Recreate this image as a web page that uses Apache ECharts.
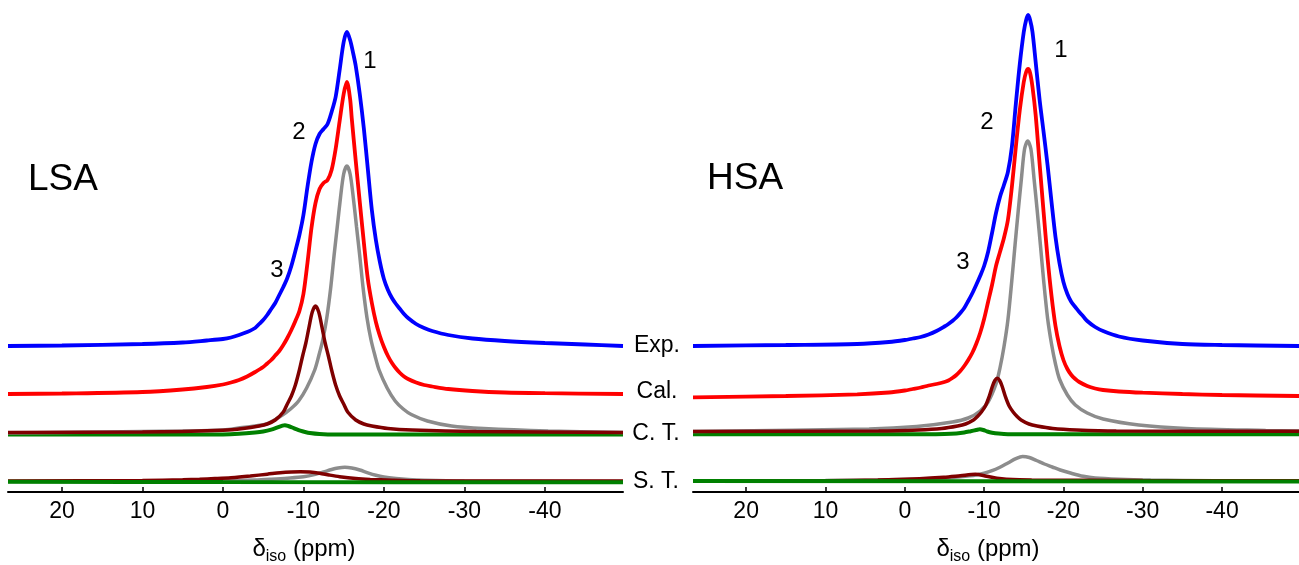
<!DOCTYPE html>
<html>
<head>
<meta charset="utf-8">
<script src="https://cdn.jsdelivr.net/npm/echarts@6/dist/echarts.min.js"></script>
<style>
html,body{margin:0;padding:0;background:#fff;}
#c{width:1299px;height:565px;}
</style>
</head>
<body>
<div id="c"></div>
<script>
// x values: chemical shift (ppm); y values: intensity (a.u., stacked spectra incl. vertical offsets)
const tickValues = [20, 10, 0, -10, -20, -30, -40];
const traceLabels = ['Exp.', 'Cal.', 'C. T.', 'S. T.'];
const panelNames = ['LSA', 'HSA'];
const peakLabels = ['1', '2', '3'];

// ---- LSA ----
const lsaExp = [[26.7,146],[20,146.5],[10,148],[5,149.5],[2,151.5],[0,153],[-1,154.5],[-2,157],[-3,160],[-4,164],[-4.5,168],[-5,172],[-5.5,177],[-6,183],[-6.5,189],[-7,197],[-7.5,205],[-8,214],[-8.5,226],[-9,241],[-9.5,257],[-10,277],[-10.5,305],[-11,330],[-11.5,348],[-12,358],[-12.5,363],[-13,368],[-13.5,380],[-14,395],[-14.5,422],[-15,450],[-15.4,460],[-15.8,452],[-16.2,438],[-16.5,426],[-17,398],[-17.5,364],[-18,323],[-18.5,282],[-19,252],[-19.5,230],[-20,213],[-20.5,202],[-21,194],[-21.5,188],[-22,183],[-22.5,178],[-23,174],[-24,168],[-25,164],[-26,161],[-28,157],[-31,153.5],[-35,151],[-40,149],[-45,147.5],[-49.7,146]];
const lsaCal = [[26.7,98],[20,98.5],[10,100],[5,102.5],[2,105],[0,107.5],[-1,109.5],[-2,112],[-3,115.5],[-4,120],[-5,125],[-5.5,128.5],[-6,132],[-6.5,136.5],[-7,141],[-7.5,147],[-8,154],[-8.5,162],[-9,171],[-9.5,181],[-10,198],[-10.5,229],[-11,264],[-11.5,289],[-12,303],[-12.5,309],[-13,312],[-13.5,322],[-14,343],[-14.5,371],[-15,398],[-15.4,410],[-15.8,393],[-16,374],[-16.5,331],[-17,290],[-17.5,250],[-18,213],[-18.5,189],[-19,170],[-19.5,156],[-20,145],[-20.5,136],[-21,129],[-21.5,123.5],[-22,119],[-22.5,115.5],[-23,113],[-24,109.5],[-25,107],[-26,105.5],[-28,103],[-31,101],[-35,99.5],[-40,98.8],[-49.7,98]];
const lsaCtMain = [[26.7,59],[15,60],[5,61],[0,62],[-2.4,64.5],[-5.4,68],[-7.4,77],[-8.4,83],[-9.4,91],[-10.4,104],[-11.4,122],[-11.9,136],[-12.4,152],[-12.9,174],[-13.4,205],[-13.8,236],[-14.2,265],[-14.6,294],[-15,318],[-15.4,326],[-15.8,318],[-16.2,294],[-16.6,265],[-17,236],[-17.4,205],[-17.9,174],[-18.4,152],[-18.9,136],[-19.4,122],[-20.4,104],[-21.4,91],[-22.4,83],[-23.4,77.5],[-25.4,71],[-28.4,66],[-32.4,63.5],[-40.4,61],[-49.7,59.5]];
const lsaCtSec = [[26.7,59.6],[10,60],[0,61.8],[-2.5,63.5],[-4.5,66],[-5.5,68],[-6.5,72],[-7.5,80],[-8,88],[-8.5,96],[-9,107],[-9.5,122],[-9.9,136],[-10.3,149],[-10.7,165],[-11.1,180],[-11.5,186],[-11.9,180],[-12.3,165],[-12.7,149],[-13.1,136],[-13.5,122],[-14,107],[-14.5,96],[-15,88],[-15.5,80],[-16.5,72],[-17.5,68],[-18.5,66],[-20.5,63.5],[-23.5,62],[-31.5,60.5],[-49.7,59.6]];
const lsaCtMin = [[26.7,57.5],[5,57.5],[0,57.6],[-2,58.2],[-4,59.5],[-5,60.5],[-6,62.3],[-6.8,64.6],[-7.4,66.3],[-7.7,66.7],[-8.1,66],[-8.6,64.5],[-9.1,62.8],[-9.6,61.3],[-10.2,60],[-10.8,59],[-12,58],[-14,57.5],[-49.7,57.5]];
const lsaStMain = [[26.7,10.5],[10,10.8],[0,11.2],[-4,12],[-6,12.8],[-8,13.8],[-10,15.2],[-11.5,17.6],[-12.5,20],[-13.5,22.5],[-14.3,24],[-15.15,24.7],[-16,24],[-17,22],[-18,19.2],[-19,16.8],[-20,15.1],[-21.5,13.6],[-23,12.6],[-25,11.8],[-30,11],[-49.7,10.5]];
const lsaStSec = [[26.7,11],[10,11.5],[5,12.2],[2.9,12.7],[1,13.4],[-1,14.3],[-3.4,16],[-5.5,17.8],[-7.1,19.3],[-8.5,20.1],[-9.6,20.3],[-10.8,20],[-12,18.8],[-13.2,17],[-14.5,15.3],[-16.5,13.5],[-18.3,12.6],[-21,11.8],[-24.5,11.2],[-49.7,11]];
const lsaStMin = [[26.7,10.2],[0,9.9],[-49.7,9.7]];

// ---- HSA ----
const hsaExp = [[26.7,146],[15,147],[6,148],[2,150],[0,152],[-1,153.5],[-2,155],[-3,157.5],[-4,161],[-5,165.5],[-5.5,168],[-6,171],[-6.5,174.5],[-7,179],[-7.5,184],[-8,191],[-8.5,198.5],[-9,207],[-9.5,216],[-10,226],[-10.5,240],[-11,259],[-11.5,279],[-12,295],[-12.5,307],[-13,320],[-13.5,345],[-14,388],[-14.5,428],[-15,460],[-15.3,472],[-15.55,477],[-15.8,472],[-16.1,460],[-16.5,430],[-17,392],[-17.5,360],[-18,327],[-18.5,290],[-19,255],[-19.5,229],[-20,210],[-20.5,198],[-21,190],[-21.5,185],[-22,180],[-22.5,175.5],[-23,171],[-24,165],[-25,161],[-27,155.5],[-30,151.5],[-35,148],[-40,147],[-49.7,146]];
const hsaCal = [[26.7,94.7],[15,96],[6,97.7],[2,99.5],[0,101.5],[-1,103],[-2,104.5],[-3,106.5],[-4,108],[-5,110],[-5.5,111.5],[-6,114],[-6.5,117],[-7,121],[-7.5,126],[-8,132],[-8.5,139],[-9,148],[-9.5,159],[-10,173],[-10.5,190],[-11,207],[-11.5,226],[-12,240],[-12.5,254],[-13,272],[-13.5,305],[-14,345],[-14.5,382],[-15,410],[-15.3,420],[-15.55,423],[-15.8,419],[-16.1,405],[-16.5,377],[-17,328],[-17.5,280],[-18,234],[-18.5,196],[-19,166],[-19.5,146],[-20,132],[-20.5,123],[-21,117],[-21.5,113],[-22,110],[-23,106],[-24,103.5],[-25,102],[-27,100.5],[-30,99.3],[-35,98],[-40,97],[-49.7,96]];
const hsaCtMain = [[26.7,60.5],[4.5,63],[-1.5,65.5],[-6,70],[-8,74],[-9.5,81],[-10.5,90],[-11.5,108],[-12,124],[-12.5,145],[-13,172],[-13.5,212],[-13.9,247],[-14.3,281],[-14.7,313],[-15.1,343],[-15.5,351],[-15.9,343],[-16.3,313],[-16.7,281],[-17.1,247],[-17.5,212],[-18,174],[-18.5,148],[-19,128],[-19.5,113],[-20.5,97],[-21.5,87],[-23,79],[-25,73],[-29.5,67],[-35.5,63.5],[-45.5,61.5],[-49.7,61]];
const hsaCtSec = [[26.7,60.5],[3.3,61],[-1.66,62],[-4.66,63.5],[-6.66,66],[-7.66,68],[-8.66,72],[-9.16,75.5],[-9.66,80],[-10.16,86],[-10.66,96],[-11.06,106],[-11.36,111.5],[-11.66,113.7],[-11.96,111.5],[-12.26,106],[-12.66,96],[-13.16,86],[-13.66,80],[-14.16,75.5],[-14.66,72],[-15.66,68],[-16.66,66],[-18.66,63.5],[-21.66,62],[-26.66,61],[-49.7,60.8]];
const hsaCtMin = [[26.7,57.7],[-3,57.7],[-5,58],[-6.5,58.6],[-7.5,59.5],[-8.3,60.8],[-9,62],[-9.46,62.7],[-9.9,62],[-10.4,60.5],[-11,59.3],[-11.8,58.4],[-13,57.8],[-49.7,57.7]];
const hsaStMain = [[26.7,11],[10,11.5],[3.4,12],[-2,13],[-5,14],[-7,15.2],[-9,17],[-10,18.8],[-11,21.3],[-12,24.8],[-13,29],[-14,33.3],[-14.85,35.5],[-15.7,34.5],[-16.6,31.5],[-17.6,28],[-18.6,25],[-19.6,22],[-21,18.7],[-22.5,15.7],[-24,14],[-27,12.8],[-31,12],[-39,11.2],[-49.7,11]];
const hsaStSec = [[26.7,11],[10,11.2],[3.4,12],[-1,13],[-4.9,14.8],[-7,16.3],[-8.9,17.7],[-10.3,15.8],[-11.6,13.8],[-12.8,12.8],[-16,12],[-30,11.5],[-49.7,11.2]];
const hsaStMin = [[26.7,11],[-49.7,10.5]];

const COLORS = {exp:'#0000ff', cal:'#ff0000', main:'#8c8c8c', sec:'#7f0000', min:'#008000'};
const FONT = 'Liberation Sans, Arial, Helvetica, sans-serif';

const chart = echarts.init(document.getElementById('c'), null, {renderer:'canvas'});

function xAxisCfg(gi){
  return {
    gridIndex: gi, type:'value', inverse:true, min:-49.7, max:26.7,
    splitLine:{show:false},
    axisLine:{show:true, onZero:false, lineStyle:{color:'#000', width:2}},
    axisTick:{show:true, inside:true, length:5, lineStyle:{color:'#000', width:1.5}, customValues: tickValues},
    axisLabel:{show:true, color:'#000', fontSize:23, fontFamily:FONT, margin:8, customValues: tickValues,
      formatter: v => String(v)}
  };
}
function yAxisCfg(gi){
  return {gridIndex:gi, type:'value', min:0, max:482, show:false};
}
function line(data, color, gi, w, z){
  return {type:'line', data:data, xAxisIndex:gi, yAxisIndex:gi, showSymbol:false, smooth:0.3,
    lineStyle:{color:color, width:w||3.8}, z:z||2, silent:true, animation:false};
}

const series = [
  line(lsaStMain, COLORS.main, 0, 3.5, 2), line(lsaStSec, COLORS.sec, 0, 3.5, 3), line(lsaStMin, COLORS.min, 0, 4, 4),
  line(lsaCtMain, COLORS.main, 0, 3.5, 2), line(lsaCtSec, COLORS.sec, 0, 3.5, 3), line(lsaCtMin, COLORS.min, 0, 4, 1),
  line(lsaCal, COLORS.cal, 0, 3.8, 5), line(lsaExp, COLORS.exp, 0, 3.8, 6),
  line(hsaStMain, COLORS.main, 1, 3.5, 2), line(hsaStSec, COLORS.sec, 1, 3.5, 3), line(hsaStMin, COLORS.min, 1, 4, 4),
  line(hsaCtMain, COLORS.main, 1, 3.5, 2), line(hsaCtSec, COLORS.sec, 1, 3.5, 3), line(hsaCtMin, COLORS.min, 1, 4, 1),
  line(hsaCal, COLORS.cal, 1, 3.8, 5), line(hsaExp, COLORS.exp, 1, 3.8, 6)
];

function txt(text, x, y, size, align){
  return {type:'text', x:x, y:y, silent:true, z:100,
    style:{text:text, fill:'#000', fontSize:size, fontFamily:FONT, align:align||'center', verticalAlign:'middle'}};
}
function axisTitle(x, y){
  return {type:'text', x:x, y:y, silent:true, z:100,
    style:{text:'{a|δ}{b|iso}{a| (ppm)}', align:'center', verticalAlign:'middle', fill:'#000',
      rich:{a:{fontSize:24, fontFamily:FONT, fill:'#000'}, b:{fontSize:16, fontFamily:FONT, fill:'#000', padding:[16,0,0,0]}}}};
}

const graphic = [
  txt(panelNames[0], 28, 180, 37, 'left'),
  txt(panelNames[1], 707, 179, 37, 'left'),
  txt(peakLabels[0], 370, 61, 24), txt(peakLabels[1], 299, 132, 24), txt(peakLabels[2], 277, 270, 24),
  txt(peakLabels[0], 1061, 50, 24), txt(peakLabels[1], 987, 122, 24), txt(peakLabels[2], 963, 262, 24),
  txt(traceLabels[0], 657, 346, 23), txt(traceLabels[1], 657, 392, 23),
  txt(traceLabels[2], 656, 434, 23), txt(traceLabels[3], 656, 482, 23),
  axisTitle(304, 549), axisTitle(988, 549)
];

chart.setOption({
  animation:false,
  backgroundColor:'#fff',
  grid:[
    {left:8, top:10, width:615, height:482},
    {left:693, top:10, width:614, height:482}
  ],
  xAxis:[xAxisCfg(0), xAxisCfg(1)],
  yAxis:[yAxisCfg(0), yAxisCfg(1)],
  series: series,
  graphic: graphic
});
</script>
</body>
</html>
